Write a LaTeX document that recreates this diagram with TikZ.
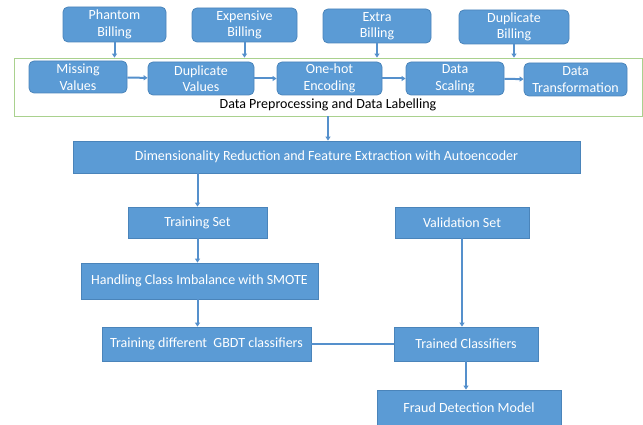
\documentclass[tikz,border=0pt]{standalone}
\usepackage{fontspec}
\setmainfont{Carlito}
\usetikzlibrary{arrows.meta}
\definecolor{boxfill}{HTML}{5B9BD5}
\definecolor{boxline}{HTML}{4A84BA}
\definecolor{framegreen}{HTML}{A9D18E}
\definecolor{conn}{HTML}{5590CC}
\tikzset{
  base/.style={fill=boxfill, draw=boxline, line width=0.8pt, text=white, align=center, inner sep=1pt,
    font=\fontsize{14}{16.5}\selectfont},
  rbox/.style={base, rounded corners=5pt},
  sbox/.style={base},
  arr/.style={draw=conn, line width=2pt, -{Triangle[length=4pt,width=5pt]}},
  ln/.style={draw=conn, line width=2pt},
}
\begin{document}
\begin{tikzpicture}[x=1pt,y=-1pt]
\useasboundingbox (0,0) rectangle (643,425);
% top row
\node[rbox, minimum width=103pt, minimum height=35pt] (phantom) at (114.5,24.5) {Phantom\\Billing};
\node[rbox, minimum width=105pt, minimum height=34pt] (expensive) at (244.5,25) {Expensive\\Billing};
\node[rbox, minimum width=108pt, minimum height=34pt] (extra) at (377,26) {Extra\\Billing};
\node[rbox, minimum width=110pt, minimum height=34pt] (dupbill) at (514,27) {Duplicate\\Billing};
% frame
\node[draw=framegreen, line width=0.8pt, minimum width=628pt, minimum height=58pt, inner sep=0pt] (frame) at (328,87) {};
\node[font=\fontsize{14}{16}\selectfont, text=black] (framelabel) at (328,104.5) {Data Preprocessing and Data Labelling};
% second row
\node[rbox, minimum width=98pt, minimum height=32pt] (missing) at (78,77) {Missing\\Values};
\node[rbox, minimum width=106pt, minimum height=33pt] (dupval) at (201,78.5) {Duplicate\\Values};
\node[rbox, minimum width=105pt, minimum height=33pt] (onehot) at (329.5,78.5) {One-hot\\Encoding};
\node[rbox, minimum width=98pt, minimum height=33pt] (scaling) at (455,78.5) {Data\\Scaling};
\node[rbox, minimum width=103pt, minimum height=33pt] (transf) at (575.5,79.5) {Data\\Transformation};
% lower boxes
\node[sbox, minimum width=507pt, minimum height=32pt] (dim) at (326.5,157) {Dimensionality Reduction and Feature Extraction with Autoencoder};
\node[sbox, minimum width=139pt, minimum height=31pt] (train) at (197.5,222.5) {Training Set};
\node[sbox, minimum width=134pt, minimum height=31pt] (valid) at (462,222.5) {Validation Set};
\node[sbox, minimum width=237pt, minimum height=36pt] (smote) at (199.5,281) {Handling Class Imbalance with SMOTE};
\node[sbox, minimum width=209pt, minimum height=34pt] (gbdt) at (206.5,344) {Training different~ GBDT classifiers};
\node[sbox, minimum width=144pt, minimum height=34pt] (trained) at (466,344) {Trained Classifiers};
\node[sbox, minimum width=184pt, minimum height=35pt] (fraud) at (469,407.5) {Fraud Detection Model};
% connectors
\draw[arr] (phantom.south) -- (phantom.south |- frame.north);
\draw[arr] (expensive.south) -- (expensive.south |- frame.north);
\draw[arr] (extra.south) -- (extra.south |- frame.north);
\draw[arr] (dupbill.south) -- (dupbill.south |- frame.north);
\draw[arr] (missing) -- (dupval);
\draw[arr] (dupval) -- (onehot);
\draw[arr] (onehot) -- (scaling);
\draw[arr] (scaling) -- (transf);
\draw[arr] (frame.south) -- (frame.south |- dim.north);
\draw[arr] (train.north |- dim.south) -- (train.north);
\draw[arr] (train.south) -- (train.south |- smote.north);
\draw[arr] (train.south |- smote.south) -- (train.south |- gbdt.north);
\draw[arr] (valid.south) -- (valid.south |- trained.north);
\draw[ln] (gbdt.east) -- (trained.west);
\draw[arr] (trained.south) -- (trained.south |- fraud.north);
\end{tikzpicture}
\end{document}
